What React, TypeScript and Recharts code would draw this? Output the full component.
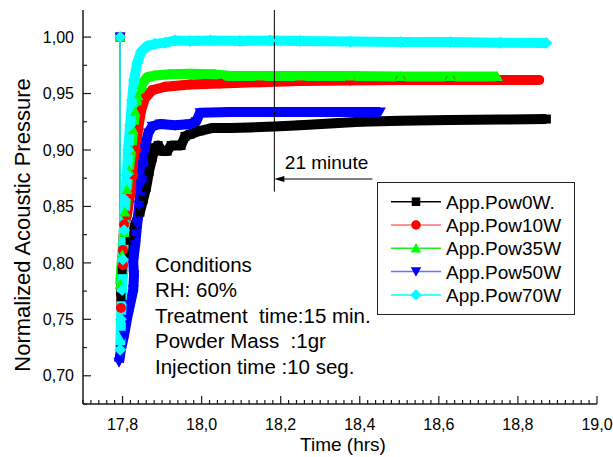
import React from 'react';
import { ComposedChart, Line, XAxis, YAxis, ReferenceLine, ReferenceDot } from 'recharts';

type Pt = [number, number];

// Normalized acoustic pressure vs. time (hrs) for each applied power
const pow0W: Pt[] = [
  [17.794, 1.0], [17.796, 0.77], [17.799, 0.794], [17.804, 0.807], [17.819, 0.82],
  [17.832, 0.834], [17.844, 0.845], [17.852, 0.856], [17.86, 0.867], [17.867, 0.881],
  [17.875, 0.893], [17.882, 0.902], [17.89, 0.904], [17.9, 0.899], [17.913, 0.899],
  [17.923, 0.904], [17.935, 0.904], [17.948, 0.904], [17.958, 0.912], [17.971, 0.914],
  [17.996, 0.917], [18.029, 0.9195], [18.072, 0.9195], [18.123, 0.92], [18.184, 0.9208],
  [18.249, 0.922], [18.325, 0.9235], [18.401, 0.925], [18.503, 0.926], [18.629, 0.9265],
  [18.756, 0.927], [18.872, 0.9274],
];

const pow10W: Pt[] = [
  [17.794, 1.0], [17.796, 0.76], [17.801, 0.798], [17.801, 0.8115], [17.804, 0.834],
  [17.811, 0.842], [17.819, 0.86], [17.827, 0.878], [17.834, 0.9], [17.839, 0.918],
  [17.847, 0.935], [17.857, 0.946], [17.875, 0.953], [17.908, 0.956], [17.971, 0.958],
  [18.047, 0.959], [18.148, 0.96], [18.249, 0.961], [18.376, 0.9615], [18.503, 0.962],
  [18.629, 0.962], [18.756, 0.962], [18.854, 0.962],
];

const pow35W: Pt[] = [
  [17.794, 1.0], [17.794, 0.781], [17.799, 0.807], [17.804, 0.827], [17.806, 0.845],
  [17.811, 0.865], [17.816, 0.882], [17.822, 0.9], [17.827, 0.918], [17.832, 0.934],
  [17.839, 0.948], [17.849, 0.958], [17.862, 0.9646], [17.882, 0.966], [17.92, 0.967],
  [17.971, 0.9675], [18.034, 0.967], [18.072, 0.9655], [18.148, 0.9655], [18.249, 0.9655],
  [18.376, 0.9655], [18.503, 0.965], [18.629, 0.965], [18.748, 0.965],
];

const pow50W: Pt[] = [
  [17.794, 1.0], [17.791, 0.712], [17.796, 0.723], [17.804, 0.736], [17.811, 0.75],
  [17.819, 0.763], [17.827, 0.776], [17.829, 0.789], [17.827, 0.801], [17.832, 0.816],
  [17.837, 0.834], [17.842, 0.851], [17.847, 0.869], [17.852, 0.887], [17.857, 0.902],
  [17.865, 0.915], [17.875, 0.921], [17.895, 0.923], [17.933, 0.922], [17.971, 0.923],
  [17.986, 0.925], [17.996, 0.933], [18.072, 0.9336], [18.173, 0.9336], [18.3, 0.9336],
  [18.452, 0.9336],
];

const pow70W: Pt[] = [
  [17.794, 1.0], [17.794, 0.723], [17.796, 0.75], [17.799, 0.776], [17.801, 0.803],
  [17.804, 0.829], [17.806, 0.856], [17.811, 0.878], [17.814, 0.9], [17.819, 0.922],
  [17.824, 0.944], [17.829, 0.962], [17.837, 0.977], [17.847, 0.987], [17.862, 0.992],
  [17.882, 0.994], [17.908, 0.995], [17.933, 0.997], [17.971, 0.9965], [18.022, 0.997],
  [18.097, 0.9965], [18.173, 0.9969], [18.249, 0.9965], [18.376, 0.996], [18.503, 0.9956],
  [18.629, 0.9956], [18.756, 0.995], [18.872, 0.9947],
];

const seriesNames = ['App.Pow0W.', 'App.Pow10W', 'App.Pow35W', 'App.Pow50W', 'App.Pow70W'];

const xMajorTicks = [17.8, 18.0, 18.2, 18.4, 18.6, 18.8, 19.0];
const yMajorTicks = [0.7, 0.75, 0.8, 0.85, 0.9, 0.95, 1.0];

const conditionsLines = [
  'Conditions',
  'RH: 60%',
  'Treatment  time:15 min.',
  'Powder Mass  :1gr',
  'Injection time :10 seg.',
];

const intervalLabel = '21 minute';
const intervalStart = 18.184;
const intervalEnd = 18.432;
const arrowLevel = 0.8743;
const markerBottom = 0.8631;
const labelAt: Pt = [18.316, 0.8894];

const X_MIN = 17.7;
const X_MAX = 19.0;
const Y_MIN = 0.675;
const Y_MAX = 1.024;

const FONT = '"Liberation Sans", Arial, sans-serif';
const AXIS = '#1a1a1a';

// minor + major tick positions
const xTicks = Array.from({ length: 66 }, (_, i) => +(X_MIN + i * 0.02).toFixed(2));
const yTicks = Array.from({ length: 14 }, (_, i) => +(Y_MIN + i * 0.025).toFixed(3));

const isMajorX = (v: number) => xMajorTicks.some((m) => Math.abs(m - v) < 1e-6);
const isMajorY = (v: number) => yMajorTicks.some((m) => Math.abs(m - v) < 1e-6);

type Shape = 'square' | 'circle' | 'triUp' | 'triDown' | 'diamond';

function Marker({ cx, cy, shape, color, s = 1 }: { cx: number; cy: number; shape: Shape; color: string; s?: number }) {
  if (cx == null || cy == null || isNaN(cx) || isNaN(cy)) return null;
  switch (shape) {
    case 'square':
      return <rect x={cx - 4.5 * s} y={cy - 4.5 * s} width={9 * s} height={9 * s} fill={color} />;
    case 'circle':
      return <circle cx={cx} cy={cy} r={5 * s} fill={color} />;
    case 'triUp':
      return <polygon points={`${cx},${cy - 5.5 * s} ${cx - 5.5 * s},${cy + 4.5 * s} ${cx + 5.5 * s},${cy + 4.5 * s}`} fill={color} />;
    case 'triDown':
      return <polygon points={`${cx - 5.5 * s},${cy - 4.5 * s} ${cx + 5.5 * s},${cy - 4.5 * s} ${cx},${cy + 5.5 * s}`} fill={color} />;
    default:
      return <polygon points={`${cx},${cy - 6 * s} ${cx + 6 * s},${cy} ${cx},${cy + 6 * s} ${cx - 6 * s},${cy}`} fill={color} />;
  }
}

const series: { name: string; points: Pt[]; color: string; line: string; shape: Shape }[] = [
  { name: seriesNames[0], points: pow0W, color: '#000000', line: '#000000', shape: 'square' },
  { name: seriesNames[1], points: pow10W, color: '#ff0000', line: '#ff7070', shape: 'circle' },
  { name: seriesNames[2], points: pow35W, color: '#00ff00', line: '#22ee22', shape: 'triUp' },
  { name: seriesNames[3], points: pow50W, color: '#0000ff', line: '#6f6fff', shape: 'triDown' },
  { name: seriesNames[4], points: pow70W, color: '#00ffff', line: '#00ffff', shape: 'diamond' },
];

const toRows = (pts: Pt[]) => pts.map(([t, v]) => ({ t, v }));

const fmtX = (v: number) => v.toFixed(1).replace('.', ',');
const fmtY = (v: number) => v.toFixed(2).replace('.', ',');

const BottomTick = (p: any) => {
  const v = p.payload.value;
  const major = isMajorX(v);
  return (
    <g>
      <line x1={p.x} x2={p.x} y1={p.y} y2={p.y - (major ? 8 : 4)} stroke={AXIS} strokeWidth={1.2} />
      {major && (
        <text x={p.x} y={p.y + 26} textAnchor="middle" fontSize={16} fill="#000" fontFamily={FONT}>
          {fmtX(v)}
        </text>
      )}
    </g>
  );
};

const TopTick = (p: any) => {
  const major = isMajorX(p.payload.value);
  return <line x1={p.x} x2={p.x} y1={p.y} y2={p.y + (major ? 8 : 4)} stroke={AXIS} strokeWidth={1.2} />;
};

const LeftTick = (p: any) => {
  const v = p.payload.value;
  const major = isMajorY(v);
  return (
    <g>
      <line x1={p.x} x2={p.x + (major ? 8 : 4)} y1={p.y} y2={p.y} stroke={AXIS} strokeWidth={1.2} />
      {major && (
        <text x={p.x - 9} y={p.y + 5.7} textAnchor="end" fontSize={16} fill="#000" fontFamily={FONT}>
          {fmtY(v)}
        </text>
      )}
    </g>
  );
};

const RightTick = (p: any) => {
  const major = isMajorY(p.payload.value);
  return <line x1={p.x} x2={p.x - (major ? 8 : 4)} y1={p.y} y2={p.y} stroke={AXIS} strokeWidth={1.2} />;
};

const axisLineStyle = { stroke: AXIS, strokeWidth: 1.5 };

const ArrowShape = (p: any) => {
  const left = Math.min(p.x1, p.x2);
  const right = Math.max(p.x1, p.x2);
  const y = p.y1;
  return (
    <g>
      <line x1={left + 4} x2={right} y1={y} y2={y} stroke="#000" strokeWidth={1} />
      <polygon points={`${left},${y} ${left + 10},${y - 3} ${left + 10},${y + 3}`} fill="#000" />
    </g>
  );
};

const IntervalLabel = (p: any) => (
  <text x={p.cx} y={p.cy + 7} textAnchor="middle" fontSize={19} fill="#000" fontFamily={FONT}>
    {intervalLabel}
  </text>
);

function LegendBox() {
  return (
    <div
      style={{
        position: 'absolute',
        left: 377,
        top: 182,
        width: 198,
        height: 133,
        border: '1px solid #222',
        boxSizing: 'border-box',
        background: '#fff',
      }}
    >
      <svg width={196} height={131} style={{ display: 'block' }}>
        {series.map((s, i) => {
          const cy = 18.7 + i * 23.3;
          return (
            <g key={s.name}>
              <line x1={13} x2={63} y1={cy} y2={cy} stroke={s.line} strokeWidth={1.5} />
              <Marker cx={38} cy={cy} shape={s.shape} color={s.color} s={0.95} />
              <text x={68} y={cy + 7} fontSize={19} fill="#000" fontFamily={FONT}>
                {s.name}
              </text>
            </g>
          );
        })}
      </svg>
    </div>
  );
}

export default function App() {
  return (
    <div style={{ position: 'absolute', left: 0, top: 0, width: 613, height: 457, background: '#fff' }}>
      <ComposedChart width={613} height={457} margin={{ top: 10, right: 16, bottom: 0, left: 0 }}>
        <XAxis
          type="number"
          dataKey="t"
          domain={[X_MIN, X_MAX]}
          allowDataOverflow
          ticks={xTicks}
          interval={0}
          tickSize={0}
          tickMargin={0}
          tickLine={false}
          tick={(p: any) => <BottomTick {...p} />}
          axisLine={axisLineStyle}
          height={53}
        />
        <XAxis
          xAxisId="top"
          orientation="top"
          type="number"
          dataKey="t"
          domain={[X_MIN, X_MAX]}
          allowDataOverflow
          ticks={xTicks}
          interval={0}
          tickSize={0}
          tickMargin={0}
          tickLine={false}
          tick={(p: any) => <TopTick {...p} />}
          axisLine={axisLineStyle}
          height={0}
        />
        <YAxis
          type="number"
          domain={[Y_MIN, Y_MAX]}
          allowDataOverflow
          ticks={yTicks}
          interval={0}
          tickSize={0}
          tickMargin={0}
          tickLine={false}
          tick={(p: any) => <LeftTick {...p} />}
          axisLine={axisLineStyle}
          width={83}
        />
        <YAxis
          yAxisId="right"
          orientation="right"
          type="number"
          domain={[Y_MIN, Y_MAX]}
          allowDataOverflow
          ticks={yTicks}
          interval={0}
          tickSize={0}
          tickMargin={0}
          tickLine={false}
          tick={(p: any) => <RightTick {...p} />}
          axisLine={axisLineStyle}
          width={0}
        />

        {series.map((s) => {
          const rows = toRows(s.points);
          return (
            <React.Fragment key={s.name}>
              {/* thin connecting line, underneath the dense band */}
              <Line
                data={rows}
                dataKey="v"
                name={`${s.name} trace`}
                stroke={s.line}
                strokeWidth={1}
                dot={false}
                activeDot={false}
                legendType="none"
                isAnimationActive={false}
              />
              {/* dense marker band */}
              <Line
                data={rows.slice(1)}
                dataKey="v"
                name={`${s.name} band`}
                stroke={s.color}
                strokeWidth={10}
                strokeLinejoin="round"
                strokeLinecap="butt"
                dot={false}
                activeDot={false}
                legendType="none"
                isAnimationActive={false}
              />
              {/* symbols */}
              <Line
                data={rows}
                dataKey="v"
                name={s.name}
                stroke="none"
                strokeWidth={0}
                dot={(p: any) => (
                  <Marker key={`${s.name}-${p.index}`} cx={p.cx} cy={p.cy} shape={s.shape} color={s.color} />
                )}
                activeDot={false}
                isAnimationActive={false}
              />
            </React.Fragment>
          );
        })}

        <ReferenceLine
          segment={[
            { x: intervalStart, y: Y_MAX },
            { x: intervalStart, y: markerBottom },
          ]}
          stroke="#000"
          strokeWidth={1}
        />
        <ReferenceLine
          segment={[
            { x: intervalStart, y: arrowLevel },
            { x: intervalEnd, y: arrowLevel },
          ]}
          shape={(p: any) => <ArrowShape {...p} />}
        />
        <ReferenceDot x={labelAt[0]} y={labelAt[1]} r={0} shape={(p: any) => <IntervalLabel {...p} />} />
      </ComposedChart>

      {/* axis titles */}
      <div
        style={{
          position: 'absolute',
          left: 240,
          top: 434,
          width: 206,
          textAlign: 'center',
          fontFamily: FONT,
          fontSize: 19,
          lineHeight: '22px',
          color: '#000',
        }}
      >
        Time (hrs)
      </div>
      <div
        style={{
          position: 'absolute',
          left: 23,
          top: 225,
          transform: 'translate(-50%, -50%) rotate(-90deg)',
          whiteSpace: 'nowrap',
          fontFamily: FONT,
          fontSize: 22,
          lineHeight: '26px',
          color: '#000',
        }}
      >
        Normalized Acoustic Pressure
      </div>

      {/* experiment conditions */}
      <div
        style={{
          position: 'absolute',
          left: 155,
          top: 252,
          fontFamily: FONT,
          fontSize: 20.5,
          lineHeight: '25.4px',
          whiteSpace: 'pre',
          color: '#000',
        }}
      >
        {conditionsLines.map((l) => (
          <div key={l}>{l}</div>
        ))}
      </div>

      <LegendBox />
    </div>
  );
}
